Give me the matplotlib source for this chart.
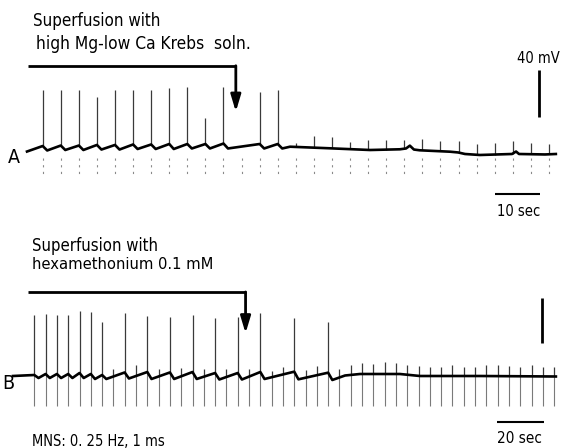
import numpy as np
import matplotlib
matplotlib.use("Agg")
import matplotlib.pyplot as plt

plt.rcParams['font.family'] = ['DejaVu Sans']

# ---- Trace A : superfusion with high Mg-low Ca Krebs ----
a_first = 3.47          # s, first MNS stimulus
a_period = 4.0          # s, 0.25 Hz
a_n_stim = 29
a_start_v = -1.3        # mV, relative to resting level
a_spike_idx = [0, 1, 2, 3, 4, 5, 6, 7, 8, 9, 10, 12, 13]
a_spike_amp = [47.7, 47.2, 47.2, 40.9, 46.8, 46.4, 46.4, 47.4, 48.5, 22.1,
               48.1, 44.3, 46.0]
a_pre = [3.4, 3.8, 3.8, 4.3, 4.3, 4.7, 4.7, 5.1, 5.1, 5.1, 5.5, 5.1, 5.1]
a_dip = [-0.4, 0.0, 0.0, 0.4, 0.4, 0.85, 0.85, 0.85, 1.3, 1.3, 1.3, 1.3, 1.3]
a_tick_idx = [11, 14, 15, 16, 17, 18, 19, 20, 21, 22, 23, 24, 25, 26, 27, 28]
a_tick_amp = [0, 3, 10, 10, 6, 8.5, 8.5, 7.7, 10, 8.5, 9.4, 9, 10, 10.5,
              9.4, 9]
a_drift_t = [58.2, 67.0, 75.9, 82.5, 83.85, 84.7, 85.6, 86.9, 93.6, 95.4,
             96.9, 100.2, 107.3, 108.2, 108.85, 114.6, 117.0]
a_drift_v = [2.8, 1.45, 0.0, 0.6, 1.3, 3.7, 0.4, -0.25, -1.45, -2.1, -3.4,
             -4.25, -3.4, -1.3, -3.4, -3.8, -3.4]

# ---- Trace B : superfusion with hexamethonium 0.1 mM ----
b_first = 9.12
b_period = 4.84
b_n_stim = 47
b_start_v = 0.0
b_spike_idx = [0, 1, 2, 3, 4, 5, 6, 8, 10, 12, 14, 16, 18, 20, 23, 26]
b_spike_amp = [54, 54, 53, 53, 56, 56, 48, 53.6, 50.5, 50.3, 51.4, 49.5,
               50.7, 52.9, 48.1, 45.9]
b_pre = [0.9, 1.8, 1.8, 1.8, 2.7, 1.8, 0.9, 3.2, 3.6, 3.2, 3.6, 2.7, 2.7,
         3.6, 3.9, 3.0]
b_dip = [-1.8, -1.8, -1.8, -1.8, -1.8, -2.7, -2.7, -2.25, -2.7, -2.7, -2.7,
         -3.15, -3.15, -2.7, -3.0, -3.6]
b_tick_idx = [7, 9, 11, 13, 15, 17, 19, 21, 22, 24, 25] + list(range(27, 47))
b_tick_amp = [6.3, 10, 7, 7.5, 7, 7, 7, 5.4, 6.6, 7, 8,
              8, 9, 10, 9, 11, 10, 8.5, 8.5, 8.5, 8.5, 10, 8.5, 8.5, 10, 10,
              9, 8.5, 10, 8.5, 8.5]
b_drift_t = [142.2, 148.6, 165.7, 174.3, 200.0, 232.5]
b_drift_v = [0.45, 1.8, 1.8, 0.0, 0.0, -0.45]


def build_trace(first, period, spike_idx, pre, dip, lag, start_v,
                drift_t, drift_v):
    """Join the pre-spike and post-spike levels into one membrane trace."""
    t = [0.0]
    v = [start_v]
    for k, i in enumerate(spike_idx):
        ts = first + period * i
        t += [ts, ts + lag]
        v += [pre[k], dip[k]]
    t += drift_t
    v += drift_v
    return np.array(t), np.array(v)


def draw_panel(ax, first, period, n_stim, spike_idx, spike_amp, pre, dip,
               lag, start_v, drift_t, drift_v, tick_idx, tick_amp, below):
    t, v = build_trace(first, period, spike_idx, pre, dip, lag, start_v,
                       drift_t, drift_v)
    stim_t = first + period * np.arange(n_stim)
    base = np.interp(stim_t, t, v)

    # stimulus artefacts below the trace
    if below == 'dotted':
        ax.vlines(stim_t, -7, -23, colors='#8a8a8a', lw=0.8,
                  linestyles=(0, (2, 4)))
    else:
        ax.vlines(stim_t, base, -27, colors='#7a7a7a', lw=0.8)

    # action potentials
    sp_t = first + period * np.array(spike_idx)
    ax.vlines(sp_t, np.array(pre), np.array(pre) + np.array(spike_amp),
              colors='#3a3a3a', lw=0.9)

    # small artefacts where no spike was fired
    tk_t = first + period * np.array(tick_idx)
    tk_b = np.interp(tk_t, t, v)
    ax.vlines(tk_t, tk_b, tk_b + np.array(tick_amp), colors='#3a3a3a', lw=0.9)

    ax.plot(t, v, color='black', lw=1.9, solid_joinstyle='round')


def draw_arrow(ax, start, end, level, tip):
    ax.plot([start, end], [level, level], color='black', lw=2.0,
            solid_capstyle='butt')
    ax.annotate('', xy=(end, tip), xytext=(end, level),
                arrowprops=dict(arrowstyle='-|>,head_length=10,head_width=3',
                                mutation_scale=1, lw=2.0, color='black',
                                shrinkA=0, shrinkB=0))


fig = plt.figure(figsize=(5.62, 4.48), dpi=100)

# panel A: 4.52 px per s, 1.175 px per mV, rest at 150 px from top
ax_a = fig.add_axes([0, 0, 1, 1])
ax_a.set_xlim(-27 / 4.52, (562 - 27) / 4.52)
ax_a.set_ylim((150 - 448) / 1.175, 150 / 1.175)
ax_a.axis('off')

# panel B: 2.335 px per s, 1.11 px per mV, rest at 376 px from top
ax_b = fig.add_axes([0, 0, 1, 1])
ax_b.set_xlim(-13 / 2.335, (562 - 13) / 2.335)
ax_b.set_ylim((376 - 448) / 1.11, 376 / 1.11)
ax_b.axis('off')
ax_b.patch.set_alpha(0)

draw_panel(ax_a, a_first, a_period, a_n_stim, a_spike_idx, a_spike_amp,
           a_pre, a_dip, 1.0, a_start_v, a_drift_t, a_drift_v,
           a_tick_idx, a_tick_amp, 'dotted')
draw_panel(ax_b, b_first, b_period, b_n_stim, b_spike_idx, b_spike_amp,
           b_pre, b_dip, 1.8, b_start_v, b_drift_t, b_drift_v,
           b_tick_idx, b_tick_amp, 'solid')

draw_arrow(ax_a, 0.22, 46.2, 71.7, 32.6)
draw_arrow(ax_b, 6.4, 99.6, 75.7, 38.5)

# calibration bars
ax_a.plot([113.3, 113.3], [28.1, 68.1], color='black', lw=2.0,
          solid_capstyle='butt')
ax_a.plot([103.5, 113.5], [-37.7, -37.7], color='black', lw=1.5,
          solid_capstyle='butt')
ax_b.plot([226.4, 226.4], [30, 70], color='black', lw=2.0,
          solid_capstyle='butt')
ax_b.plot([207.2, 227.2], [-41.7, -41.7], color='black', lw=1.5,
          solid_capstyle='butt')


def label(x, y, s, size=12, **kw):
    fig.text(x / 562, 1 - y / 448, s, fontsize=size, fontstretch='condensed',
             ha='left', va='baseline', **kw)


label(33, 26, 'Superfusion with', size=12.2)
label(36, 49, 'high Mg-low Ca Krebs  soln.', size=12.4)
label(517, 63, '40 mV', size=10.5)
label(8, 163, 'A', size=14)
label(497, 216, '10 sec', size=10.5)

label(32, 251, 'Superfusion with', size=12)
label(32, 269, 'hexamethonium 0.1 mM', size=11.8)
label(2, 389, 'B', size=14)
label(497, 443, '20 sec', size=11)
label(32, 446, 'MNS: 0. 25 Hz, 1 ms', size=10.5)

fig.savefig('out.png', dpi=100)
